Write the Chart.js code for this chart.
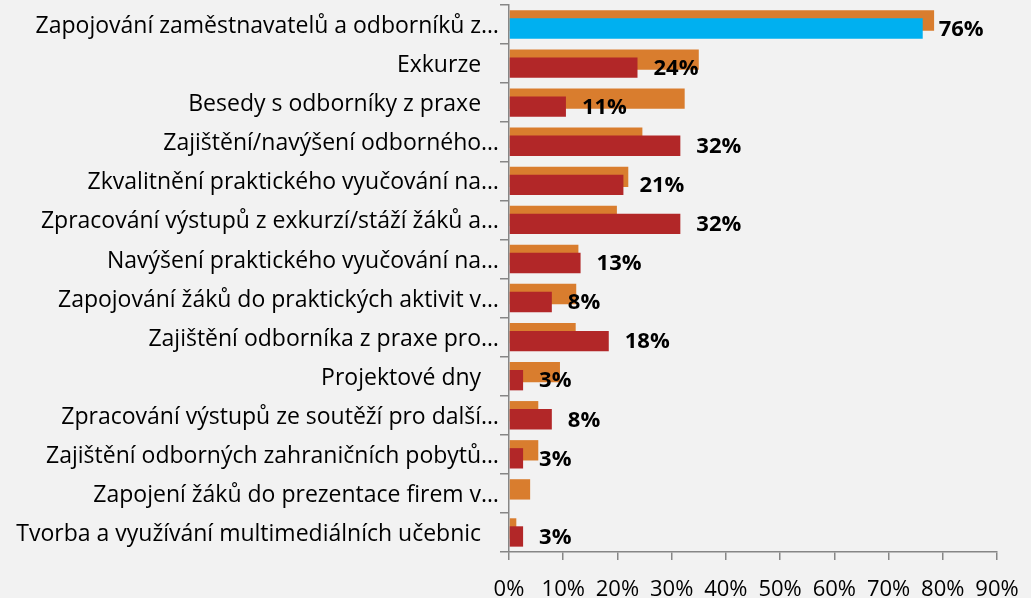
<!DOCTYPE html>
<html>
<head>
<meta charset="utf-8">
<script src="https://cdn.jsdelivr.net/npm/chart.js@4"></script>
<style>
  html, body { margin: 0; padding: 0; background: #f2f2f2; }
  #wrap { width: 1031px; height: 598px; }
</style>
</head>
<body>
<div id="wrap"><canvas id="chart" width="1031" height="598"></canvas></div>
<script>
// categories as shown on the axis (Excel truncated the long ones)
const categories = [
  "Zapojování zaměstnavatelů a odborníků z…",
  "Exkurze   ",
  "Besedy s odborníky z praxe   ",
  "Zajištění/navýšení odborného…",
  "Zkvalitnění praktického vyučování na…",
  "Zpracování výstupů z exkurzí/stáží žáků a…",
  "Navýšení praktického vyučování na…",
  "Zapojování žáků do praktických aktivit v…",
  "Zajištění odborníka z praxe pro…",
  "Projektové dny   ",
  "Zpracování výstupů ze soutěží pro další…",
  "Zajištění odborných zahraničních pobytů…",
  "Zapojení žáků do prezentace firem v…",
  "Tvorba a využívání multimediálních učebnic   "
];

// back (orange) series, no labels
const orangeValues = [78.4, 35.0, 32.4, 24.6, 22.0, 19.9, 12.8, 12.4, 12.3, 9.4, 5.4, 5.4, 3.9, 1.35];
// front (red) series, labelled
const redValues = [76.3, 23.7, 10.5, 31.6, 21.1, 31.6, 13.2, 7.9, 18.4, 2.6, 7.9, 2.6, null, 2.6];

const xTicks = [0, 10, 20, 30, 40, 50, 60, 70, 80, 90];

const ORANGE = "#d97d2e";
const RED = "#b22728";
const BLUE = "#00b0f0";
const AXIS = "#868686";
const FONT = "'Open Sans', Lato, sans-serif";

// first bar of the red series is highlighted in blue
const redColors = redValues.map((v, i) => (i === 0 ? BLUE : RED));

// draw the red series after the orange one, then its labels
const frontBars = {
  id: "frontBars",
  beforeDatasetDraw(chart, args) {
    if (args.index === 1) return false;
  },
  afterDatasetsDraw(chart) {
    const meta = chart.getDatasetMeta(1);
    meta.controller.draw();
    const ctx = chart.ctx;
    ctx.save();
    ctx.font = "bold 22px " + FONT;
    ctx.fillStyle = "#000";
    ctx.textAlign = "left";
    ctx.textBaseline = "middle";
    meta.data.forEach((bar, i) => {
      const v = redValues[i];
      if (v == null) return;
      ctx.fillText(Math.round(v) + "%", bar.x + 16, bar.y + 1);
    });
    ctx.restore();
  }
};

new Chart(document.getElementById("chart"), {
  type: "bar",
  data: {
    labels: categories,
    datasets: [
      {
        label: "orange",
        data: orangeValues,
        backgroundColor: ORANGE,
        borderWidth: 0
      },
      {
        label: "red",
        data: redValues,
        backgroundColor: redColors,
        borderWidth: 0
      }
    ]
  },
  options: {
    indexAxis: "y",
    responsive: false,
    animation: false,
    categoryPercentage: 0.41,
    barPercentage: 2.54,
    layout: { padding: { top: 5, right: 34, left: 0, bottom: 0 } },
    plugins: {
      legend: { display: false },
      tooltip: { enabled: false }
    },
    scales: {
      x: {
        min: 0,
        max: 90,
        afterBuildTicks(scale) {
          scale.ticks = xTicks.map((v) => ({ value: v }));
        },
        afterFit(scale) {
          scale.height = 46;
          scale.paddingLeft = 0;
          scale.paddingRight = 0;
        },
        grid: {
          display: true,
          drawOnChartArea: false,
          drawTicks: true,
          tickLength: 8,
          color: AXIS,
          lineWidth: 1.5
        },
        border: { display: true, color: AXIS, width: 1.5 },
        ticks: {
          color: "#000",
          padding: 17,
          font: { family: FONT, size: 22 },
          maxRotation: 0,
          callback: (v) => v + "%"
        }
      },
      y: {
        afterFit(scale) {
          scale.width = 509;
          scale.paddingTop = 0;
          scale.paddingBottom = 0;
        },
        grid: {
          display: true,
          drawOnChartArea: false,
          drawTicks: true,
          tickLength: 9,
          color: AXIS,
          lineWidth: 1.5
        },
        border: { display: true, color: AXIS, width: 1.5 },
        ticks: {
          color: "#000",
          padding: 1,
          labelOffset: 2,
          autoSkip: false,
          font: { family: FONT, size: 23 }
        }
      }
    }
  },
  plugins: [frontBars]
});
</script>
</body>
</html>
